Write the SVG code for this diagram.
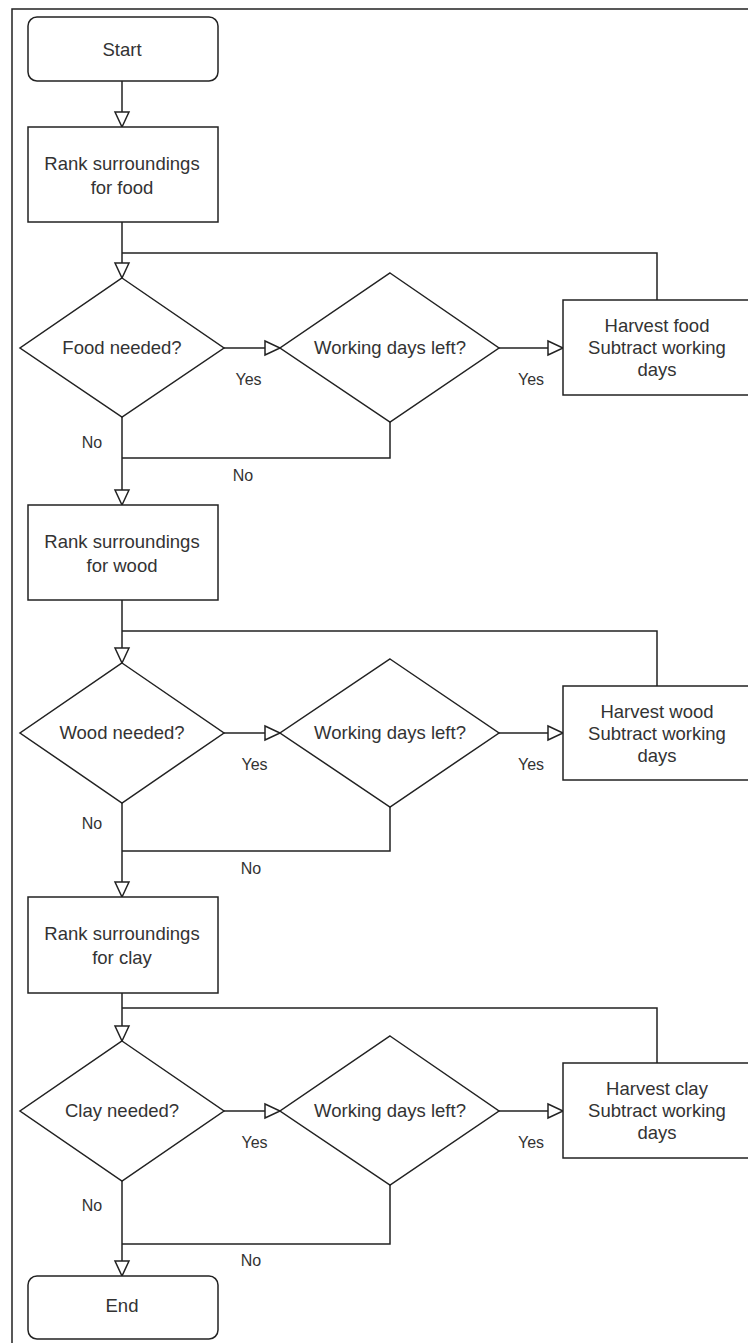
<svg xmlns="http://www.w3.org/2000/svg" width="748" height="1343" viewBox="0 0 748 1343">
<style>
.n{fill:#fff;stroke:#222;stroke-width:1.5}
.t{font-family:"Liberation Sans",Arial,sans-serif;font-size:18.5px;fill:#333;text-anchor:middle}
.l{font-family:"Liberation Sans",Arial,sans-serif;font-size:16px;fill:#333;text-anchor:middle}
.c{fill:none;stroke:#222;stroke-width:1.5}
</style>
<defs>
<marker id="a" markerUnits="userSpaceOnUse" markerWidth="17" markerHeight="16" refX="15" refY="7" orient="auto" overflow="visible">
<path d="M0,0 L15,7 L0,14 Z" fill="#fff" stroke="#222" stroke-width="1.5"/>
</marker>
</defs>
<rect width="748" height="1343" fill="#fff"/>
<rect x="12" y="9" width="745" height="1345" fill="none" stroke="#222" stroke-width="1.5"/>
<g id="connectors">
<path class="c" d="M122,81 V127" marker-end="url(#a)"/>
<path class="c" d="M122,222 V278" marker-end="url(#a)"/>
<path class="c" d="M657,300 V253 H122"/>
<path class="c" d="M224,348 H280" marker-end="url(#a)"/>
<path class="c" d="M499,348 H563" marker-end="url(#a)"/>
<path class="c" d="M122,417 V505" marker-end="url(#a)"/>
<path class="c" d="M390,422 V458 H122"/>
<path class="c" d="M122,600 V663" marker-end="url(#a)"/>
<path class="c" d="M657,686 V631 H122"/>
<path class="c" d="M224,733 H280" marker-end="url(#a)"/>
<path class="c" d="M499,733 H563" marker-end="url(#a)"/>
<path class="c" d="M122,803 V897" marker-end="url(#a)"/>
<path class="c" d="M390,807 V851 H122"/>
<path class="c" d="M122,993 V1041" marker-end="url(#a)"/>
<path class="c" d="M657,1063 V1008 H122"/>
<path class="c" d="M224,1111 H280" marker-end="url(#a)"/>
<path class="c" d="M499,1111 H563" marker-end="url(#a)"/>
<path class="c" d="M122,1181 V1276" marker-end="url(#a)"/>
<path class="c" d="M390,1185 V1244 H122"/>
<text class="l" x="248.5" y="385">Yes</text>
<text class="l" x="531" y="385">Yes</text>
<text class="l" x="92" y="448">No</text>
<text class="l" x="243" y="481">No</text>
<text class="l" x="254.5" y="770">Yes</text>
<text class="l" x="531" y="770">Yes</text>
<text class="l" x="92" y="829">No</text>
<text class="l" x="251" y="874">No</text>
<text class="l" x="254.5" y="1148">Yes</text>
<text class="l" x="531" y="1148">Yes</text>
<text class="l" x="92" y="1211">No</text>
<text class="l" x="251" y="1266">No</text>
</g>
<g id="start">
<rect class="n" x="28" y="17" width="190" height="64" rx="9"/>
<text class="t" x="122" y="55.5">Start</text>
</g>
<g id="rank-food">
<rect class="n" x="28" y="127" width="190" height="95"/>
<text class="t" x="122" y="170">Rank surroundings</text>
<text class="t" x="122" y="194">for food</text>
</g>
<g id="food-needed">
<polygon class="n" points="122,278 224,348 122,417 20,348"/>
<text class="t" x="122" y="353.5">Food needed?</text>
</g>
<g id="days-food">
<polygon class="n" points="390,273 499,348 390,422 280,348"/>
<text class="t" x="390" y="353.5">Working days left?</text>
</g>
<g id="harvest-food">
<rect class="n" x="563" y="300" width="190" height="95"/>
<text class="t" x="657" y="332">Harvest food</text>
<text class="t" x="657" y="354">Subtract working</text>
<text class="t" x="657" y="376">days</text>
</g>
<g id="rank-wood">
<rect class="n" x="28" y="505" width="190" height="95"/>
<text class="t" x="122" y="548">Rank surroundings</text>
<text class="t" x="122" y="572">for wood</text>
</g>
<g id="wood-needed">
<polygon class="n" points="122,663 224,733 122,803 20,733"/>
<text class="t" x="122" y="739">Wood needed?</text>
</g>
<g id="days-wood">
<polygon class="n" points="390,659 499,733 390,807 280,733"/>
<text class="t" x="390" y="739">Working days left?</text>
</g>
<g id="harvest-wood">
<rect class="n" x="563" y="686" width="190" height="94"/>
<text class="t" x="657" y="718">Harvest wood</text>
<text class="t" x="657" y="740">Subtract working</text>
<text class="t" x="657" y="762">days</text>
</g>
<g id="rank-clay">
<rect class="n" x="28" y="897" width="190" height="96"/>
<text class="t" x="122" y="940">Rank surroundings</text>
<text class="t" x="122" y="964">for clay</text>
</g>
<g id="clay-needed">
<polygon class="n" points="122,1041 224,1111 122,1181 20,1111"/>
<text class="t" x="122" y="1116.5">Clay needed?</text>
</g>
<g id="days-clay">
<polygon class="n" points="390,1036 499,1111 390,1185 280,1111"/>
<text class="t" x="390" y="1116.5">Working days left?</text>
</g>
<g id="harvest-clay">
<rect class="n" x="563" y="1063" width="190" height="95"/>
<text class="t" x="657" y="1095">Harvest clay</text>
<text class="t" x="657" y="1117">Subtract working</text>
<text class="t" x="657" y="1139">days</text>
</g>
<g id="end">
<rect class="n" x="28" y="1276" width="190" height="63" rx="9"/>
<text class="t" x="122" y="1312">End</text>
</g>
</svg>
